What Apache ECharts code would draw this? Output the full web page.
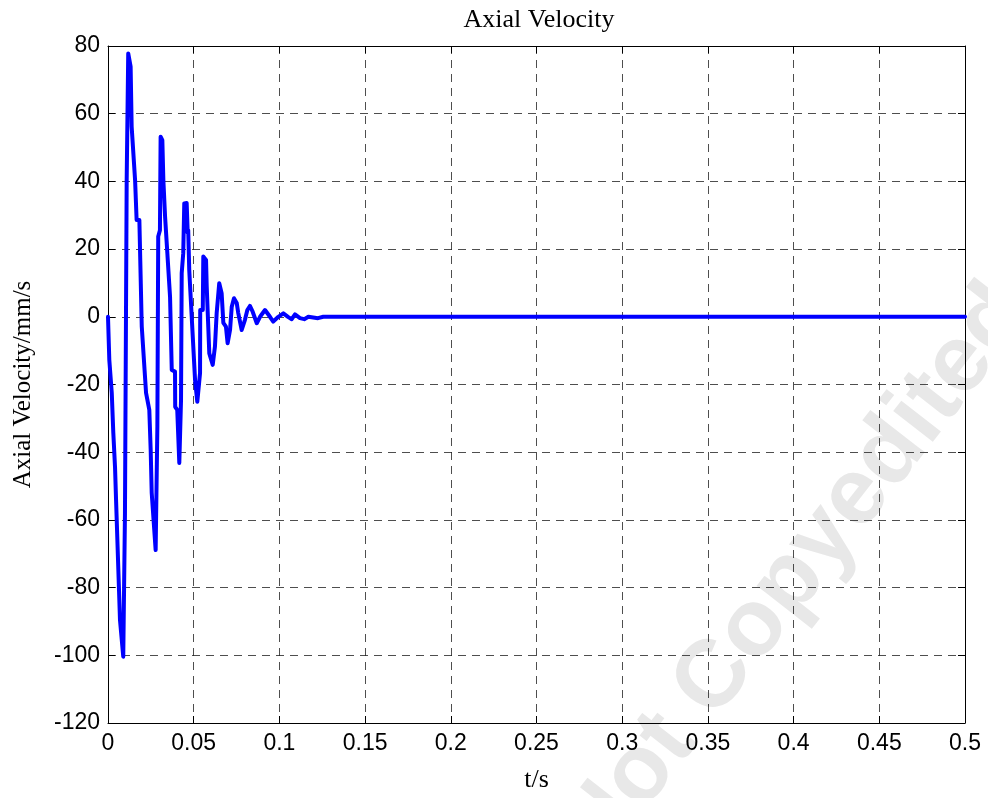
<!DOCTYPE html>
<html>
<head>
<meta charset="utf-8">
<script src="https://cdn.jsdelivr.net/npm/echarts@6/dist/echarts.min.js"></script>
<style>
  html, body { margin: 0; padding: 0; background: #fff; }
  #chart { width: 988px; height: 798px; }
</style>
</head>
<body>
<div id="chart"></div>
<script>
// time (s) and axial velocity (mm/s)
const tValues = [0, 0.00076, 0.0022, 0.0031, 0.0041, 0.0047, 0.0070, 0.0089, 0.0099, 0.0109,
  0.0118, 0.0132, 0.0138, 0.0158, 0.0167, 0.0183, 0.0197, 0.0222, 0.0241, 0.0249,
  0.0255, 0.0278, 0.0288, 0.0293, 0.0303, 0.0307, 0.0317, 0.0323, 0.0333, 0.0362,
  0.0372, 0.0391, 0.0392, 0.0404, 0.0416, 0.0426, 0.0430, 0.0439, 0.0445, 0.0459,
  0.0465, 0.0468, 0.0474, 0.0482, 0.0508, 0.0521, 0.0537, 0.0538, 0.0553, 0.0556,
  0.0572, 0.0576, 0.0591, 0.0611, 0.0624, 0.0634, 0.0649, 0.0663, 0.0673, 0.0688,
  0.0698, 0.0712, 0.0722, 0.0735, 0.0751, 0.0760, 0.0780, 0.0799, 0.0813, 0.0828,
  0.0844, 0.0868, 0.0887, 0.0916, 0.0945, 0.0964, 0.0994, 0.1023, 0.1052, 0.1072,
  0.1091, 0.1120, 0.1145, 0.1169, 0.1225, 0.1256, 0.5];
const velocity = [0, -12.7, -22.5, -34.3, -44.4, -54.1, -89.6, -100.4, -58, 40.4,
  77.8, 73.9, 56.2, 40.4, 28.6, 28.6, -2.9, -22.5, -27.5, -39.3,
  -52, -68.9, -32.5, 23.7, 25.6, 53.2, 52.2, 40.4, 29.6, 5.9,
  -15.7, -16.2, -26.6, -27.5, -43.2, -24.6, 12.9, 18.8, 33.5, 33.6,
  24.8, 25.6, 13.8, 13.8, -18.7, -25.1, -16.6, 2, 2, 17.8,
  16.8, 8.9, -10.8, -14.2, -8.8, 1.1, 9.9, 7, -1.8, -2.9,
  -7.8, -3.9, 3, 5.5, 4.1, 1.1, -3.9, -0.9, 2, 3.2,
  1.5, -1.9, 0, 2, 0, -1.4, 0, 1, -0.1, -0.7,
  0.7, -0.4, -0.7, 0, -0.4, 0, 0];

const xTicks = [0, 0.05, 0.1, 0.15, 0.2, 0.25, 0.3, 0.35, 0.4, 0.45, 0.5];
const yTicks = [-120, -100, -80, -60, -40, -20, 0, 20, 40, 60, 80];

const chart = echarts.init(document.getElementById('chart'), null, { renderer: 'canvas' });

const serif = 'Liberation Serif, Times New Roman, serif';
const sans = 'Liberation Sans, Arial, sans-serif';

const gridLine = { show: true, lineStyle: { color: '#222', type: [8, 6], width: 1, opacity: 0.8 } };
const hidden = { show: false };
const boxTick = { show: true, inside: true, length: 7, lineStyle: { color: '#000' } };

const option = {
  animation: false,
  backgroundColor: '#fff',
  title: {
    text: 'Axial Velocity',
    left: 534, top: 2, textAlign: 'center',
    textStyle: { fontFamily: serif, fontSize: 26, fontWeight: 'normal', color: '#000' }
  },
  // faint diagonal watermark
  graphic: [{
    type: 'text', x: 580, y: 851, rotation: 0.908, z: -10, silent: true,
    style: {
      text: 'Not Copyedited', fill: '#e8e8e8', textAlign: 'left', textVerticalAlign: 'middle',
      font: 'bold 95px Liberation Sans, Arial, sans-serif'
    }
  }],
  grid: { left: 108, right: 23, top: 46, bottom: 75, show: false },
  xAxis: [{
    type: 'value', min: 0, max: 0.5, interval: 0.05,
    name: 't/s', nameLocation: 'middle', nameGap: 44,
    nameTextStyle: { fontFamily: serif, fontSize: 26, color: '#000' },
    axisLine: { onZero: false, lineStyle: { color: '#000', width: 1 } },
    axisTick: boxTick,
    axisLabel: { fontFamily: sans, fontSize: 23, color: '#000', margin: 9,
      formatter: v => String(parseFloat(v.toFixed(2))) },
    splitLine: gridLine
  }, {
    type: 'value', position: 'top', min: 0, max: 0.5, interval: 0.05,
    axisLine: { onZero: false, lineStyle: { color: '#000', width: 1 } },
    axisTick: boxTick, axisLabel: hidden, splitLine: hidden
  }],
  yAxis: [{
    type: 'value', min: -120, max: 80, interval: 20,
    name: 'Axial Velocity/mm/s', nameLocation: 'middle', nameGap: 72,
    nameTextStyle: { fontFamily: serif, fontSize: 25, color: '#000' },
    axisLine: { show: true, onZero: false, lineStyle: { color: '#000', width: 1 } },
    axisTick: boxTick,
    axisLabel: { fontFamily: sans, fontSize: 23, color: '#000', margin: 8 },
    splitLine: gridLine
  }, {
    type: 'value', position: 'right', min: -120, max: 80, interval: 20,
    axisLine: { show: true, onZero: false, lineStyle: { color: '#000', width: 1 } },
    axisTick: boxTick, axisLabel: hidden, splitLine: hidden
  }],
  series: [{
    type: 'line',
    data: tValues.map((t, i) => [t, velocity[i]]),
    showSymbol: false,
    lineStyle: { color: '#0000ff', width: 4, join: 'round', cap: 'round' },
    clip: true
  }]
};

chart.setOption(option);
</script>
</body>
</html>
